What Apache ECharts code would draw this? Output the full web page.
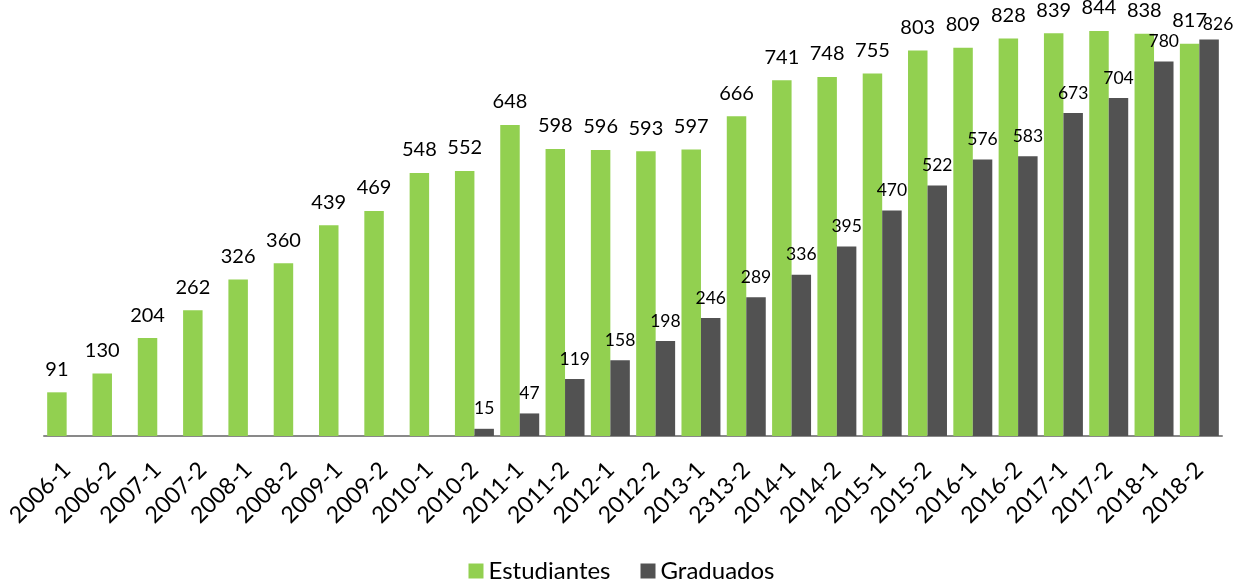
<!DOCTYPE html>
<html>
<head>
<meta charset="utf-8">
<script src="https://cdn.jsdelivr.net/npm/echarts@6/dist/echarts.min.js"></script>
<style>
  html, body { margin: 0; padding: 0; background: #fff; }
  #chart { width: 1243px; height: 586px; }
</style>
</head>
<body>
<div id="chart"></div>
<script>
  // periodos
  const periodos = ['2006-1', '2006-2', '2007-1', '2007-2', '2008-1', '2008-2', '2009-1', '2009-2',
    '2010-1', '2010-2', '2011-1', '2011-2', '2012-1', '2012-2', '2013-1', '2313-2', '2014-1',
    '2014-2', '2015-1', '2015-2', '2016-1', '2016-2', '2017-1', '2017-2', '2018-1', '2018-2']
  const estudiantes = [91, 130, 204, 262, 326, 360, 439, 469, 548, 552, 648, 598, 596, 593, 597,
    666, 741, 748, 755, 803, 809, 828, 839, 844, 838, 817]
  const graduados = [null, null, null, null, null, null, null, null, null, 15, 47, 119, 158, 198,
    246, 289, 336, 395, 470, 522, 576, 583, 673, 704, 780, 826]

  const fuente = 'Lato, "Open Sans", sans-serif'

  // la ultima etiqueta de graduados se corre para no pisar la de estudiantes
  let datosGrad = graduados.map((v, i) => i === graduados.length - 1
    ? { value: v, label: { offset: [9, 5] } }
    : v)

  let chart = echarts.init(document.getElementById('chart'))
  chart.setOption({
    animation: false,
    textStyle: { fontFamily: fuente },
    grid: { left: 44, right: 21, top: 4, bottom: 150, outerBoundsMode: 'none' },
    legend: {
      bottom: -2,
      left: 'center',
      itemWidth: 15,
      itemHeight: 15,
      itemGap: 30,
      icon: 'rect',
      textStyle: { fontSize: 24, color: '#000', fontFamily: fuente },
      data: ['Estudiantes', 'Graduados']
    },
    xAxis: {
      type: 'category',
      data: periodos,
      axisLine: { lineStyle: { color: '#898989', width: 2 } },
      axisTick: { show: false },
      axisLabel: {
        interval: 0,
        rotate: 45,
        margin: 30,
        fontSize: 23,
        color: '#000'
      }
    },
    yAxis: {
      type: 'value',
      min: 0,
      max: 900,
      show: false
    },
    series: [{
      name: 'Estudiantes',
      type: 'bar',
      data: estudiantes,
      barGap: '0%',
      barCategoryGap: '14%',
      itemStyle: { color: '#92d050' },
      label: {
        show: true,
        position: 'top',
        distance: 13,
        fontSize: 20,
        color: '#000'
      }
    }, {
      name: 'Graduados',
      type: 'bar',
      data: datosGrad,
      itemStyle: { color: '#525252' },
      label: {
        show: true,
        position: 'top',
        distance: 11,
        fontSize: 17.5,
        color: '#000'
      }
    }]
  })
</script>
</body>
</html>
